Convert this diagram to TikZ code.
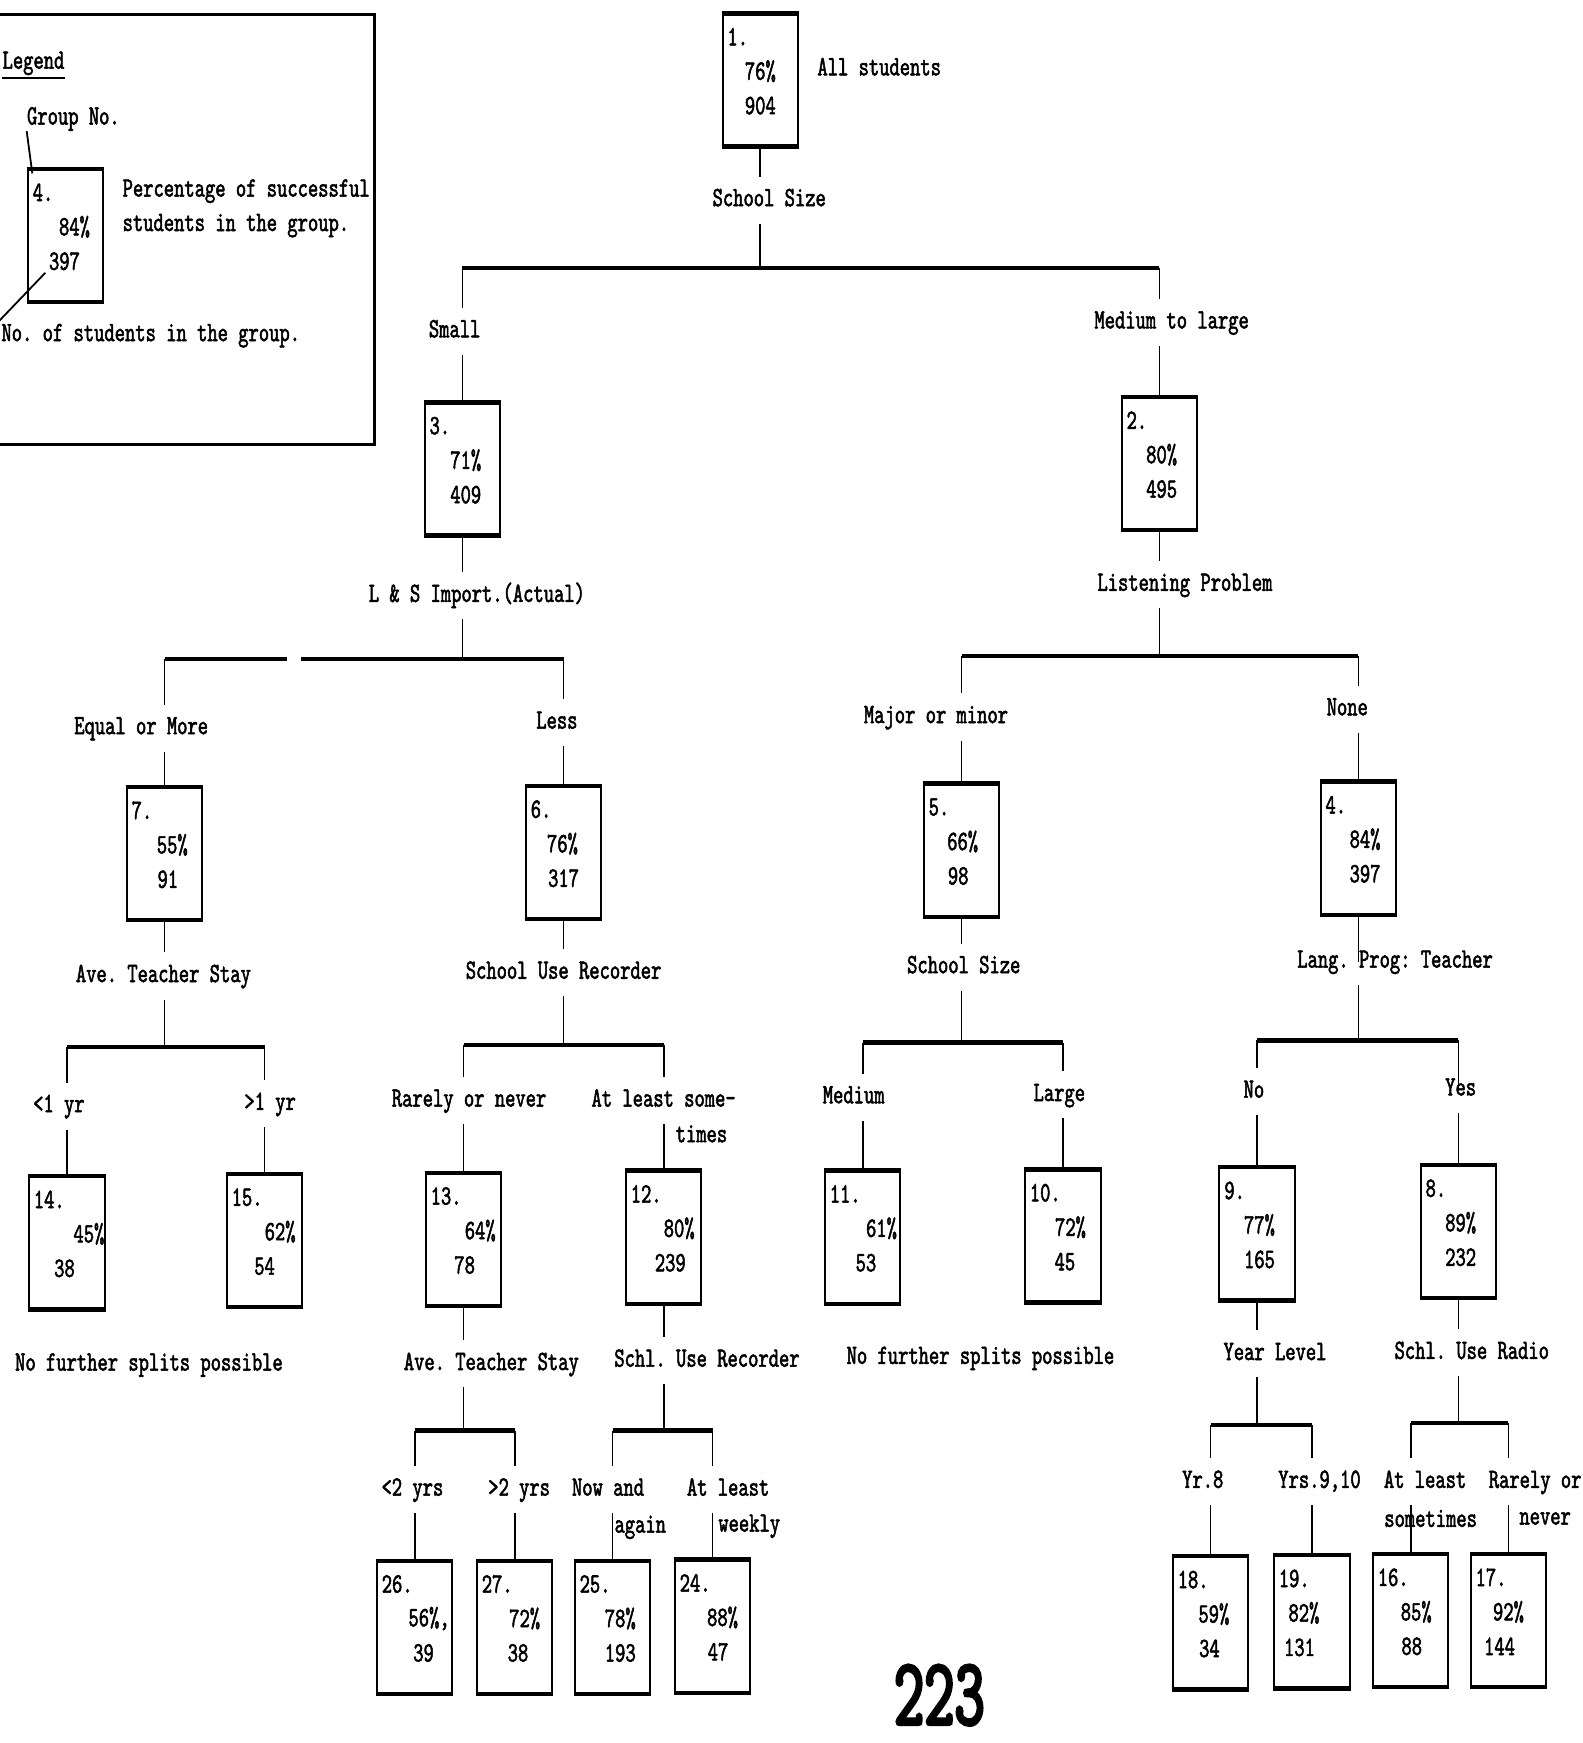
\documentclass[tikz,border=0pt]{standalone}
\usepackage{fontspec}
\usetikzlibrary{calc}
\newfontfamily\twf{lmmono10-regular.otf}[FakeStretch=0.7,FakeBold=1.8]
\newfontfamily\pagenumfont{lmmono10-regular.otf}[FakeStretch=0.6,FakeBold=3]
\newcommand\tf{\twf\fontsize{14pt}{17pt}\selectfont\frenchspacing}
\newcommand\gbx[8]{%
  \node[gbox, anchor=north] (#1) at (#2,#3) {};
  \draw[edge] (#1.north west) -- (#1.north east);
  \draw[edge] (#1.south west) -- (#1.south east);
  \node[txt, anchor=west] (#1n) at ($(#1.north west)+(5,21)$) {#4};
  \node[txt] (#1p) at ($(#1.north)+(#6,52)$) {#5};
  \node[txt] (#1c) at ($(#1.north)+(#8,83)$) {#7};
}
\begin{document}
\begin{tikzpicture}[x=0.5556pt, y=-0.5556pt,
  conn/.style={line width=0.9pt},
  bar/.style={line width=2.3pt},
  edge/.style={line width=2.2pt},
  gbox/.style={draw, line width=1pt, inner sep=0pt, minimum width=37.8pt, minimum height=65.6pt},
  txt/.style={font=\tf, inner sep=0pt},
  lbl/.style={font=\tf, inner xsep=1pt, inner ysep=6pt, text height=8.6pt, text depth=2.5pt}]
\useasboundingbox (0,0) rectangle (1424,1568);
\clip (0,0) rectangle (1424,1568);
\fill[white] (0,0) rectangle (1424,1568);

% ---------- legend ----------
\draw[line width=1.4pt] (-10,13) -- (337,13) -- (337,400) -- (-10,400);
\node[txt, anchor=west] (leg) at (2,57) {Legend};
\draw[line width=0.9pt] ($(leg.south west)+(0,2)$) -- ($(leg.south east)+(0,2)$);
\node[txt, anchor=west] (lgrp) at (24,107) {Group No.};
\gbx{lg}{59}{152}{4.}{84\%}{8}{397}{-1}
\node[txt, anchor=west] (lpct) at (110,172) {Percentage of successful};
\node[txt, anchor=west] (lstu) at (110,203) {students in the group.};
\node[txt, anchor=west] (lnum) at (1,302) {No. of students in the group.};
\draw[conn] (lgrp.south west) -- ($(lg.north west)+(5,4)$);
\draw[conn] ($(lgc.south west)+(-3,2)$) -- ($(lnum.north west)+(-2,-2)$);

% ---------- root ----------
\gbx{g1}{684}{12}{1.}{76\%}{0}{904}{0}
\node[txt, anchor=west] (ast) at (735,60) {All students};
\node[lbl] (s1) at (692,180) {School Size};
\coordinate (b1) at (684,241);
\coordinate (b1l) at (416,241);
\coordinate (b1r) at (1043,241);
\draw[conn] (g1.south) -- (g1.south |- s1.north);
\draw[conn] (b1 |- s1.south) -- (b1);
\draw[bar] (b1l) -- (b1r);

% ---------- small ----------
\node[lbl] (lsm) at (409,298) {Small};
\gbx{g3}{416}{362}{3.}{71\%}{3}{409}{3}
\draw[conn] (b1l) -- (b1l |- lsm.north);
\draw[conn] (b1l |- lsm.south) -- (g3.north);
\node[lbl] (s3) at (429,536) {L \& S Import.(Actual)};
\coordinate (b3) at (416,593);
\coordinate (b3l) at (148,593);
\coordinate (b3r) at (507,593);
\coordinate (b3ga) at (258,593);
\coordinate (b3gb) at (271,593);
\draw[conn] (g3.south) -- (g3.south |- s3.north);
\draw[conn] (b3 |- s3.south) -- (b3);
\draw[bar] (b3l) -- (b3ga);
\draw[bar] (b3gb) -- (b3r);

\node[lbl] (leq) at (127,655) {Equal or More};
\gbx{g7}{148}{708}{7.}{55\%}{7}{91}{3}
\draw[conn] (b3l) -- (b3l |- leq.north);
\draw[conn] (b3l |- leq.south) -- (g7.north);
\node[lbl] (s7) at (147,878) {Ave. Teacher Stay};
\coordinate (b7) at (148,942);
\coordinate (b7l) at (60,942);
\coordinate (b7r) at (238,942);
\draw[conn] (g7.south) -- (g7.south |- s7.north);
\draw[conn] (b7 |- s7.south) -- (b7);
\draw[bar] (b7l) -- (b7r);
\node[lbl] (llt1) at (53,995) {<1 yr};
\node[lbl] (lgt1) at (243,993) {>1 yr};
\gbx{g14}{60}{1058}{14.}{45\%}{20}{38}{-2}
\gbx{g15}{238}{1056}{15.}{62\%}{14}{54}{0}
\draw[conn] (b7l) -- (b7l |- llt1.north);
\draw[conn] (b7l |- llt1.south) -- (g14.north);
\draw[conn] (b7r) -- (b7r |- lgt1.north);
\draw[conn] (b7r |- lgt1.south) -- (g15.north);
\node[txt] (nfs1) at (134,1228) {No further splits possible};

\node[lbl] (lless) at (501,650) {Less};
\gbx{g6}{507}{707}{6.}{76\%}{-1}{317}{0}
\draw[conn] (b3r) -- (b3r |- lless.north);
\draw[conn] (b3r |- lless.south) -- (g6.north);
\node[lbl] (s6) at (507,875) {School Use Recorder};
\coordinate (b6) at (507,940);
\coordinate (b6l) at (417,940);
\coordinate (b6r) at (597,940);
\draw[conn] (g6.south) -- (g6.south |- s6.north);
\draw[conn] (b6 |- s6.south) -- (b6);
\draw[bar] (b6l) -- (b6r);
\node[lbl] (lrare) at (422,990) {Rarely or never};
\node[lbl] (lals) at (597,990) {At least some-};
\node[txt] (ltimes) at (631,1020) {times};
\gbx{g13}{417}{1055}{13.}{64\%}{15}{78}{1}
\gbx{g12}{597}{1053}{12.}{80\%}{14}{239}{6}
\draw[conn] (b6l) -- (b6l |- lrare.north);
\draw[conn] (b6l |- lrare.south) -- (g13.north);
\draw[conn] (b6r) -- (b6r |- lals.north);
\draw[conn] (b6r |- lals.south) -- (g12.north);

\node[lbl] (s13) at (442,1227) {Ave. Teacher Stay};
\coordinate (b13) at (417,1287);
\coordinate (b13l) at (373,1287);
\coordinate (b13r) at (463,1287);
\draw[conn] (g13.south) -- (g13.south |- s13.north);
\draw[conn] (b13 |- s13.south) -- (b13);
\draw[bar] (b13l) -- (b13r);
\node[lbl] (llt2) at (371,1340) {<2 yrs};
\node[lbl] (lgt2) at (467,1340) {>2 yrs};
\gbx{g26}{373}{1404}{26.}{56\%,}{13}{39}{8}
\gbx{g27}{463}{1404}{27.}{72\%}{9}{38}{3}
\draw[conn] (b13l) -- (b13l |- llt2.north);
\draw[conn] (b13l |- llt2.south) -- (g26.north);
\draw[conn] (b13r) -- (b13r |- lgt2.north);
\draw[conn] (b13r |- lgt2.south) -- (g27.north);

\node[lbl] (s12) at (636,1224) {Schl. Use Recorder};
\coordinate (b12) at (597,1287);
\coordinate (b12l) at (551,1287);
\coordinate (b12r) at (641,1287);
\draw[conn] (g12.south) -- (g12.south |- s12.north);
\draw[conn] (b12 |- s12.south) -- (b12);
\draw[bar] (b12l) -- (b12r);
\node[lbl] (lnow) at (547,1340) {Now and};
\node[txt] (lagain) at (576,1374) {again};
\node[lbl] (lalw) at (655,1340) {At least};
\node[txt] (lweekly) at (674,1373) {weekly};
\gbx{g25}{551}{1404}{25.}{78\%}{7}{193}{7}
\gbx{g24}{641}{1403}{24.}{88\%}{9}{47}{5}
\draw[conn] (b12l) -- (b12l |- lnow.north);
\draw[conn] (b12l |- lnow.south) -- (g25.north);
\draw[conn] (b12r) -- (b12r |- lalw.north);
\draw[conn] (b12r |- lalw.south) -- (g24.north);

% ---------- medium to large ----------
\node[lbl] (lml) at (1054,290) {Medium to large};
\gbx{g2}{1043}{357}{2.}{80\%}{2}{495}{2}
\draw[conn] (b1r) -- (b1r |- lml.north);
\draw[conn] (b1r |- lml.south) -- (g2.north);
\node[lbl] (s2) at (1066,526) {Listening Problem};
\coordinate (b2) at (1043,590);
\coordinate (b2l) at (865,590);
\coordinate (b2r) at (1222,590);
\draw[conn] (g2.south) -- (g2.south |- s2.north);
\draw[conn] (b2 |- s2.south) -- (b2);
\draw[bar] (b2l) -- (b2r);

\node[lbl] (lmaj) at (842,645) {Major or minor};
\gbx{g5}{865}{705}{5.}{66\%}{1}{98}{-3}
\draw[conn] (b2l) -- (b2l |- lmaj.north);
\draw[conn] (b2l |- lmaj.south) -- (g5.north);
\node[lbl] (s5) at (867,870) {School Size};
\coordinate (b5) at (865,938);
\coordinate (b5l) at (776,938);
\coordinate (b5r) at (956,938);
\draw[conn] (g5.south) -- (g5.south |- s5.north);
\draw[conn] (b5 |- s5.south) -- (b5);
\draw[bar] (b5l) -- (b5r);
\node[lbl] (lmedium) at (768,987) {Medium};
\node[lbl] (llarge) at (953,985) {Large};
\gbx{g11}{776}{1053}{11.}{61\%}{17}{53}{3}
\gbx{g10}{956}{1052}{10.}{72\%}{7}{45}{2}
\draw[conn] (b5l) -- (b5l |- lmedium.north);
\draw[conn] (b5l |- lmedium.south) -- (g11.north);
\draw[conn] (b5r) -- (b5r |- llarge.north);
\draw[conn] (b5r |- llarge.south) -- (g10.north);
\node[txt] (nfs2) at (882,1222) {No further splits possible};

\node[lbl] (lnone) at (1212,638) {None};
\gbx{g4}{1222}{703}{4.}{84\%}{6}{397}{6}
\draw[conn] (b2r) -- (b2r |- lnone.north);
\draw[conn] (b2r |- lnone.south) -- (g4.north);
\node[lbl] (s4) at (1255,865) {Lang. Prog: Teacher};
\coordinate (b4) at (1222,936);
\coordinate (b4l) at (1131,936);
\coordinate (b4r) at (1312,936);
\draw[conn] (g4.south) -- (g4.south |- s4.center);
\draw[conn] (b4 |- s4.south) -- (b4);
\draw[bar] (b4l) -- (b4r);
\node[lbl] (lno) at (1128,982) {No};
\node[lbl] (lyes) at (1314,980) {Yes};
\gbx{g9}{1131}{1050}{9.}{77\%}{2}{165}{2}
\gbx{g8}{1312}{1048}{8.}{89\%}{2}{232}{2}
\draw[conn] (b4l) -- (b4l |- lno.north);
\draw[conn] (b4l |- lno.south) -- (g9.north);
\draw[conn] (b4r) -- (b4r |- lyes.center);
\draw[conn] (b4r |- lyes.south) -- (g8.north);

\node[lbl] (s9) at (1147,1218) {Year Level};
\coordinate (b9) at (1131,1282);
\coordinate (b9l) at (1089,1282);
\coordinate (b9r) at (1180,1282);
\draw[conn] (g9.south) -- (g9.south |- s9.north);
\draw[conn] (b9 |- s9.south) -- (b9);
\draw[bar] (b9l) -- (b9r);
\node[lbl] (lyr8) at (1082,1333) {Yr.8};
\node[lbl] (lyrs) at (1187,1333) {Yrs.9,10};
\gbx{g18}{1089}{1400}{18.}{59\%}{3}{34}{-1}
\gbx{g19}{1180}{1399}{19.}{82\%}{-7}{131}{-11}
\draw[conn] (b9l) -- (b9l |- lyr8.north);
\draw[conn] (b9l |- lyr8.south) -- (g18.north);
\draw[conn] (b9r) -- (b9r |- lyrs.north);
\draw[conn] (b9r |- lyrs.south) -- (g19.north);

\node[lbl] (s8) at (1324,1217) {Schl. Use Radio};
\coordinate (b8) at (1312,1280);
\coordinate (b8l) at (1269,1280);
\coordinate (b8r) at (1357,1280);
\draw[conn] (g8.south) -- (g8.south |- s8.north);
\draw[conn] (b8 |- s8.south) -- (b8);
\draw[bar] (b8l) -- (b8r);
\node[lbl] (lals2) at (1282,1333) {At least};
\node[txt] (lsome) at (1287,1366) {sometimes};
\node[lbl] (lron) at (1381,1333) {Rarely or};
\node[txt] (lnever) at (1390,1366) {never};
\gbx{g16}{1269}{1398}{16.}{85\%}{5}{88}{1}
\gbx{g17}{1357}{1398}{17.}{92\%}{0}{144}{-8}
\draw[conn] (b8l) -- (b8l |- lals2.north);
\draw[conn] (b8l |- lals2.south) -- (g16.north);
\draw[conn] (b8r) -- (b8r |- lron.north);
\draw[conn] (b8r |- lron.south) -- (g17.north);

% ---------- page number ----------
\node[font=\pagenumfont\fontsize{48pt}{50pt}\selectfont, inner sep=0pt] (pg) at (845,1525) {223};
\end{tikzpicture}
\end{document}
